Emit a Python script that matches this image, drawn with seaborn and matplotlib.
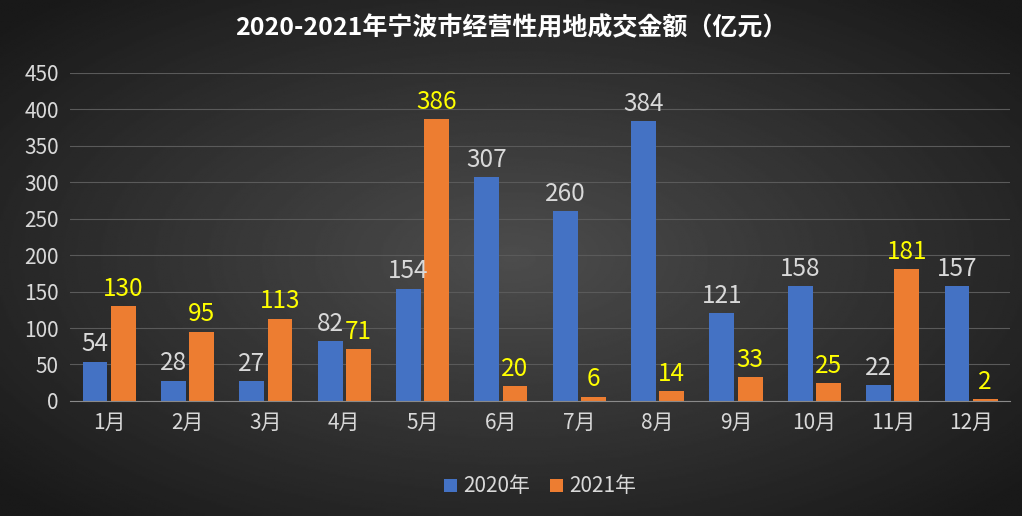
import numpy as np
import pandas as pd
import matplotlib.pyplot as plt
from matplotlib import font_manager
import seaborn as sns

names = {f.name for f in font_manager.fontManager.ttflist}
cjk = [n for n in ['Noto Sans CJK SC', 'Noto Sans CJK JP', 'Noto Sans CJK TC', 'Noto Sans CJK KR'] if n in names]
plt.rcParams['font.family'] = 'sans-serif'
plt.rcParams['font.sans-serif'] = cjk + ['DejaVu Sans']

months = ['1月','2月','3月','4月','5月','6月','7月','8月','9月','10月','11月','12月']
v2020 = [54, 28, 27, 82, 154, 307, 260, 384, 121, 158, 22, 157]
v2021 = [130, 95, 113, 71, 386, 20, 6, 14, 33, 25, 181, 2]
series = ['2020年', '2021年']

df = pd.DataFrame({'month': months * 2, 'value': v2020 + v2021,
                   'year': [series[0]] * 12 + [series[1]] * 12})

fig = plt.figure(figsize=(10.22, 5.16), dpi=100)
bg = fig.add_axes([0, 0, 1, 1], zorder=-10)
yy, xx = np.mgrid[-1:1:300j, -1:1:600j]
r = np.sqrt(xx**2 + yy**2)
bg.imshow(np.clip(0.30 - 0.15 * r, 0.1, 0.3), cmap='gray', vmin=0, vmax=1, aspect='auto', extent=[0, 1, 0, 1])
bg.axis('off')

ax = fig.add_axes([0.0685, 0.223, 0.92, 0.636])
ax.patch.set_alpha(0)
sns.barplot(data=df, x='month', y='value', hue='year', palette=['#4472c4', '#ed7d31'],
            saturation=1, width=0.72, gap=0.12, ax=ax, legend=True)
ax.set_ylim(0, 450)
ax.set_yticks(range(0, 451, 50))
ax.grid(axis='y', color='#5a5a5a', lw=0.8)
ax.set_axisbelow(True)
for s in ['top', 'right', 'left']:
    ax.spines[s].set_visible(False)
ax.spines['bottom'].set_color('#8a8a8a')
ax.tick_params(colors='#d9d9d9', labelsize=15, length=0, pad=8)
ax.set_xlabel(''); ax.set_ylabel('')
colors = ['#d9d9d9', '#ffff00']
for cont, c in zip(ax.containers, colors):
    ax.bar_label(cont, padding=3, color=c, fontsize=17.5)
leg = ax.legend(loc='upper center', bbox_to_anchor=(0.5, -0.17), ncol=2, frameon=False,
                fontsize=15, labelcolor='#d9d9d9', handlelength=0.6, handleheight=0.6,
                handletextpad=0.3, columnspacing=1.0)
fig.text(0.5, 0.945, '2020-2021年宁波市经营性用地成交金额（亿元）', ha='center', va='center',
         color='white', fontsize=18, fontweight='bold')
fig.savefig('out.png', dpi=100)
